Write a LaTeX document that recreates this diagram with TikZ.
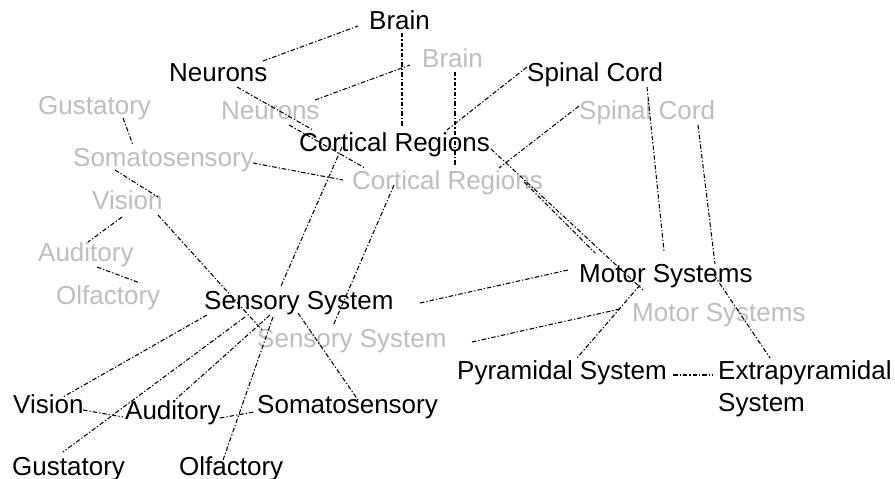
\documentclass[tikz,border=0pt]{standalone}
\usepackage{fontspec}
\setmainfont{Liberation Sans}
\usetikzlibrary{calc}
\definecolor{grayc}{RGB}{190,190,190}
\begin{document}
\begin{tikzpicture}[x=1bp,y=-1bp,
  lbl/.style={inner sep=0pt, anchor=base west, font=\fontsize{26bp}{32bp}\selectfont},
  blk/.style={lbl, text=black},
  gry/.style={lbl, text=grayc},
  link/.style={draw=black, line width=1.05bp, dash pattern=on 4.5bp off 2bp on 1.3bp off 2bp}]
\fill[white] (0,0) rectangle (895,479);
\useasboundingbox (0,0) rectangle (895,479);
% gray layer
\node[gry] (gbrain) at (422,68) {Brain};
\node[gry] (gneur) at (221,120) {Neurons};
\node[gry] (gspin) at (579,120) {Spinal Cord};
\node[gry] (gcort) at (352,190) {Cortical Regions};
\node[gry] (gmotor) at (632,322) {Motor Systems};
\node[gry] (gsens) at (257,348) {Sensory System};
\node[gry] (ggust) at (38,115) {Gustatory};
\node[gry] (gsoma) at (73,167) {Somatosensory};
\node[gry] (gvis) at (92,210) {Vision};
\node[gry] (gaud) at (38,262) {Auditory};
\node[gry] (golf) at (56,305) {Olfactory};
% black layer
\node[blk] (brain) at (369,30) {Brain};
\node[blk] (neur) at (169,82) {Neurons};
\node[blk] (spin) at (527,82) {Spinal Cord};
\node[blk] (cort) at (299,152) {Cortical Regions};
\node[blk] (motor) at (579,283) {Motor Systems};
\node[blk] (sens) at (204,310) {Sensory System};
\node[blk] (pyr) at (457,379) {Pyramidal System};
\node[blk, anchor=north west, align=left] (extra) at (718,360) {Extrapyramidal\\System};
\node[blk] (vis) at (13,413) {Vision};
\node[blk] (aud) at (125,419) {Auditory};
\node[blk] (soma) at (257,413) {Somatosensory};
\node[blk] (gust) at (12,475) {Gustatory};
\node[blk] (olf) at (179,475) {Olfactory};
% connectors
\draw[link] ($(neur.base west)+(94,-21)$) -- ($(brain.base west)+(-11,-4)$);
\draw[link] ($(brain.base west)+(33,3)$) -- ($(cort.base west)+(103,-25)$);
\draw[link] ($(neur.base west)+(68,5)$) -- ($(cort.base west)+(14,-22)$);
\draw[link] ($(spin.base west)+(0,-15)$) -- ($(cort.base west)+(148,-22)$);
\draw[link] ($(gneur.base west)+(94,-20)$) -- ($(gbrain.base west)+(-12,-3)$);
\draw[link] ($(gbrain.base west)+(33,4)$) -- ($(gcort.base west)+(103,-24)$);
\draw[link] ($(gneur.base west)+(68,5)$) -- ($(gcort.base west)+(13,-22)$);
\draw[link] ($(gspin.base west)+(0,-14)$) -- ($(gcort.base west)+(147,-22)$);
\draw[link] ($(cort.base west)+(192,-3)$) -- ($(gmotor.base west)+(11,-32)$);
\draw[link] ($(gcort.base west)+(172,-8)$) -- ($(motor.base west)+(16,-30)$);
\draw[link] ($(spin.base west)+(120,5)$) -- ($(motor.base west)+(85,-32)$);
\draw[link] ($(gspin.base west)+(119,5)$) -- ($(gmotor.base west)+(83,-58)$);
\draw[link] ($(sens.base west)+(216,-7)$) -- ($(motor.base west)+(-11,-13)$);
\draw[link] ($(gsens.base west)+(215,-6)$) -- ($(gmotor.base west)+(-12,-13)$);
\draw[link] ($(cort.base west)+(43,-5)$) -- ($(sens.base west)+(77,-24)$);
\draw[link] ($(gcort.base west)+(42,-5)$) -- ($(gsens.base west)+(76,-22)$);
\draw[link] ($(motor.base west)+(61,2)$) -- ($(pyr.base west)+(120,-21)$);
\draw[link] ($(motor.base west)+(135,-8)$) -- ($(extra.north west)+(52,-2)$);
\draw[link] ($(pyr.base west)+(216,-4)$) -- ($(extra.north west)+(-5,15)$);
\draw[link] ($(sens.base west)+(3,5)$) -- ($(vis.base west)+(50,-16)$);
\draw[link] ($(sens.base west)+(41,7)$) -- ($(gust.base west)+(51,-23)$);
\draw[link] ($(sens.base west)+(66,5)$) -- ($(aud.base west)+(50,-19)$);
\draw[link] ($(sens.base west)+(69,7)$) -- ($(olf.base west)+(43,-12)$);
\draw[link] ($(sens.base west)+(94,3)$) -- ($(soma.base west)+(101,-13)$);
\draw[link] ($(vis.base west)+(70,-3)$) -- ($(aud.base west)+(-2,-2)$);
\draw[link] ($(aud.base west)+(95,-1)$) -- ($(soma.base west)+(-3,-1)$);
\draw[link] ($(ggust.base west)+(85,3)$) -- ($(gsoma.base west)+(60,-22)$);
\draw[link] ($(gsoma.base west)+(180,-4)$) -- ($(gcort.base west)+(-9,-10)$);
\draw[link] ($(gsoma.base west)+(42,3)$) -- ($(gvis.base west)+(66,-13)$);
\draw[link] ($(gvis.base west)+(66,5)$) -- ($(gsens.base west)+(5,-18)$);
\draw[link] ($(gvis.base west)+(30,7)$) -- ($(gaud.base west)+(50,-20)$);
\draw[link] ($(gaud.base west)+(59,5)$) -- ($(golf.base west)+(84,-22)$);
\end{tikzpicture}
\end{document}
